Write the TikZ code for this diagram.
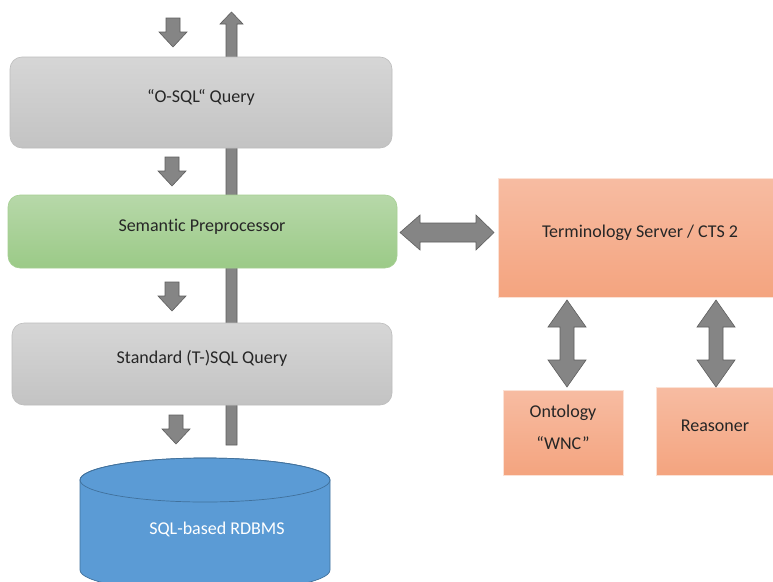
\documentclass[tikz,border=0pt]{standalone}
\usepackage{fontspec}
\setmainfont{Carlito}[Ligatures=NoCommon]
\definecolor{txt}{HTML}{262626}
\definecolor{greyTop}{HTML}{D6D6D6}
\definecolor{greyBot}{HTML}{C3C3C3}
\definecolor{greyLine}{HTML}{BDBDBD}
\definecolor{greenTop}{HTML}{B7D8A9}
\definecolor{greenBot}{HTML}{9BCA87}
\definecolor{greenLine}{HTML}{A6CF93}
\definecolor{salTop}{HTML}{F7BCA2}
\definecolor{salBot}{HTML}{F4A47F}
\definecolor{salLine}{HTML}{FBE2D6}
\definecolor{dbFill}{HTML}{5B9BD5}
\definecolor{dbLine}{HTML}{41719C}
\definecolor{arrFill}{HTML}{858585}
\definecolor{arrLine}{HTML}{5E5E5E}
\tikzset{
  lbl/.style={text=txt, font=\fontsize{18}{32}\selectfont, align=center},
  greybox/.style={rounded corners=12pt, top color=greyTop, bottom color=greyBot, draw=greyLine, line width=0.6pt},
  greenbox/.style={rounded corners=12pt, top color=greenTop, bottom color=greenBot, draw=greenLine, line width=0.6pt},
  salbox/.style={top color=salTop, bottom color=salBot, draw=salLine, line width=0.8pt},
  blockarrow/.style={fill=arrFill, draw=arrLine, line width=0.6pt, line join=miter},
  pics/downarrow/.style={code={
    \path[blockarrow] (-7,0) -- (7,0) -- (7,14) -- (14,14) -- (0,29) -- (-14,14) -- (-7,14) -- cycle;
  }},
  pics/vdouble/.style={code={
    \path[blockarrow] (0,0) -- (19,27) -- (7,27) -- (7,60) -- (19,60) -- (0,87)
      -- (-19,60) -- (-7,60) -- (-7,27) -- (-19,27) -- cycle;
  }}
}
\begin{document}
\begin{tikzpicture}[x=1pt,y=-1pt]
\clip (0,0) rectangle (773,581);
\fill[white] (0,0) rectangle (773,581);

% long return arrow behind the query boxes
\path[blockarrow] (226,445) -- (237,445) -- (237,24) -- (243,24) -- (231.5,12)
  -- (220,24) -- (226,24) -- cycle;

% query pipeline
\path[greybox] (10,57) rectangle (392,148);
\node[lbl] (q1) at (201,97) {“O-SQL“ Query};
\path[greenbox] (8,195) rectangle (397,268);
\node[lbl] (sp) at (202,227) {Semantic Preprocessor};
\path[greybox] (12,323) rectangle (392,405);
\node[lbl] (q2) at (202,358) {Standard (T-)SQL Query};

% database cylinder (radii in pt so the arcs bulge the right way)
\path[fill=dbFill, draw=dbLine, line width=0.7pt]
  (80,480) -- (80,570) arc[start angle=180, end angle=360, x radius=125pt, y radius=22pt]
  -- (330,480) arc[start angle=0, end angle=180, x radius=125pt, y radius=22pt] -- cycle;
\draw[dbLine, line width=0.7pt] (205,480) ellipse[x radius=125pt, y radius=22pt];
\node[lbl, text=white] (db) at (217,529) {SQL-based RDBMS};

% flow arrows
\pic at (173,18) {downarrow};
\pic at (172,157) {downarrow};
\pic at (172,282) {downarrow};
\pic at (176,415) {downarrow};

% terminology side
\path[salbox] (498,178) rectangle (776,297);
\node[lbl] (ts) at (640,233) {Terminology Server / CTS 2};
\path[salbox] (503,390) rectangle (623,475);
\node[lbl] (onto) at (563,427) {Ontology\\“WNC”};
\path[salbox] (656,387) rectangle (776,475);
\node[lbl] (reas) at (715,426) {Reasoner};

% two-way links
\path[blockarrow] (400,232.5) -- (420,215) -- (420,223) -- (476,223) -- (476,215) -- (494,232.5)
  -- (476,250) -- (476,242) -- (420,242) -- (420,250) -- cycle;
\pic at (567,300) {vdouble};
\pic at (716,300) {vdouble};
\end{tikzpicture}
\end{document}
